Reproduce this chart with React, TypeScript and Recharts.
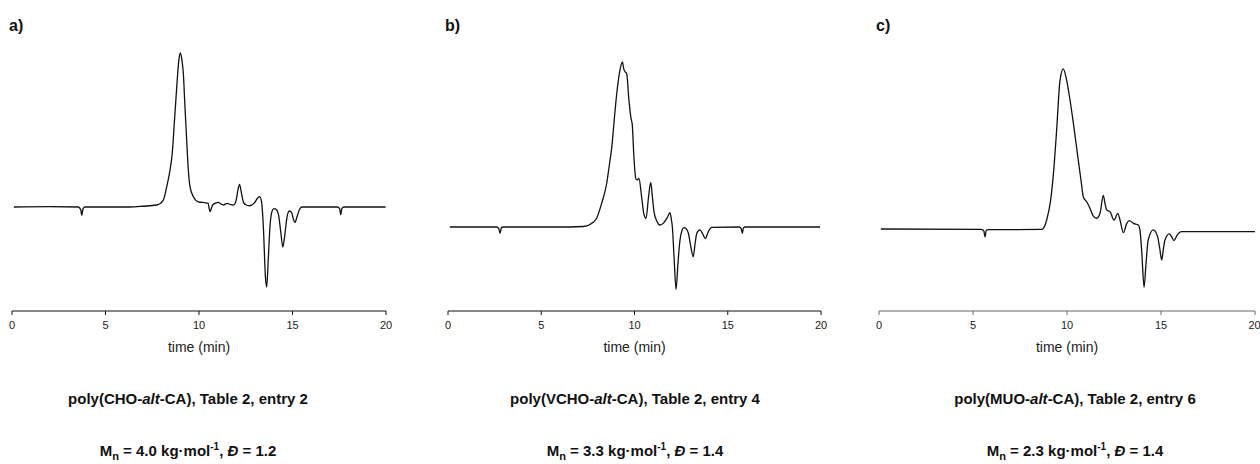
import React from 'react'
import { LineChart, Line, XAxis, YAxis } from 'recharts'

// retention time (min) and detector signal (a.u., main peak = 100)
const timeA = [
  0.1, 2.0, 3.55, 3.68, 3.73, 3.8, 3.9, 6.3, 7.0, 7.74, 8.09, 8.27, 8.45, 8.57, 8.68, 8.81, 8.92, 9.0,
  9.08, 9.16, 9.25, 9.34, 9.43, 9.52, 9.7, 9.96, 10.3, 10.48, 10.59, 10.66, 10.73, 10.88, 11.03, 11.17,
  11.3, 11.51, 11.7, 11.84, 11.98, 12.08, 12.17, 12.27, 12.38, 12.5, 12.7, 12.95, 13.15, 13.25, 13.35,
  13.45, 13.55, 13.62, 13.7, 13.8, 13.9, 14.0, 14.12, 14.25, 14.38, 14.48, 14.58, 14.7, 14.83, 14.95,
  15.05, 15.13, 15.25, 15.38, 15.5, 17.4, 17.52, 17.58, 17.64, 17.75, 19.98,
]
const signalA = [
  0, 0.3, 0, -2, -5.4, -1, 0, 0, 0.5, 1.3, 4.5, 13, 24, 35, 54.5, 78, 95, 100,
  96, 87, 65, 43.5, 24, 13, 6.7, 3.4, 2.8, 2.5, -3, -1, 1.3, 2.5, 3, 2,
  1.3, 2.4, 1.5, 1.3, 4, 11, 14.7, 9, 3, 1.5, 0.8, 2.5, 6, 6.7, 3,
  -15, -45, -52, -35, -12, -3, -1, -1.5, -5, -17, -26, -19, -7, -2.6, -3.5,
  -8, -10, -6, -1.5, 0, 0, -1, -5, -1, 0, 0,
]

const timeB = [
  0.1, 2.6, 2.72, 2.79, 2.86, 2.95, 6.5, 7.26, 7.61, 7.97, 8.24, 8.51, 8.62, 8.69, 8.78, 8.86, 9.04,
  9.22, 9.35, 9.42, 9.5, 9.58, 9.7, 9.81, 9.88, 9.97, 10.08, 10.16, 10.24, 10.38, 10.5, 10.62, 10.75,
  10.87, 10.97, 11.05, 11.2, 11.37, 11.54, 11.75, 11.9, 11.97, 12.03, 12.12, 12.23, 12.33, 12.44,
  12.55, 12.65, 12.77, 12.89, 13.02, 13.15, 13.25, 13.34, 13.51, 13.65, 13.8, 13.95, 14.14, 15.6,
  15.72, 15.78, 15.84, 15.95, 19.95,
]
const signalB = [
  0, 0, -1, -3.8, -0.5, 0, 0, 0.3, 1.5, 5.3, 14.4, 26.5, 35, 40.6, 48, 58, 80,
  95, 100, 96, 94, 93, 77, 66, 62, 42, 29, 28.5, 29.5, 18.4, 8, 5.3, 18,
  27, 17, 9, 3.5, 1.2, 2.2, 5.5, 8.7, 5, 0, -18, -37.8, -22, -7.9,
  -2, -0.4, -1, -3.8, -12, -18, -10, -3.8, -1.8, -4, -7.1, -3, -0.2, 0,
  -1, -3.8, -0.5, 0, 0,
]

const timeC = [
  0.1, 5.4, 5.57, 5.64, 5.7, 5.8, 8.65, 8.92, 9.13, 9.31, 9.45, 9.63, 9.8, 9.98, 10.16, 10.34, 10.6,
  10.75, 10.87, 11.05, 11.22, 11.4, 11.58, 11.76, 11.93, 12.02, 12.11, 12.29, 12.5, 12.7, 12.82, 13.0,
  13.18, 13.32, 13.53, 13.79, 13.88, 13.98, 14.1, 14.2, 14.32, 14.59, 14.82, 14.93, 15.04, 15.12,
  15.21, 15.44, 15.57, 15.69, 15.85, 16.1, 20,
]
const signalC = [
  0, -0.3, -1, -5, -1, -0.4, -0.3, 5.6, 18, 39, 62, 93, 100, 93, 80.6, 66, 43,
  30, 20, 17, 13, 8, 6.7, 10, 21, 16, 11.9, 10.8, 5.6, 9.8, 5.6, -2.3,
  3.5, 5.2, 3.5, 2.5, -0.6, -15, -36.4, -22, -6.9, -0.6, -4.8, -12, -19.4, -13,
  -6.9, -3.1, -5, -7.3, -4, -1.7, -1.7,
]

const timeTicks = [0, 5, 10, 15, 20]

const font = '"Liberation Sans", Arial, sans-serif'

interface PanelProps {
  letter: string
  times: number[]
  signal: number[]
  yDomain: [number, number]
  left: number
  width: number
  margin: { left: number; right: number }
  axisColor: string
  polymer: string
  entry: string
  mn: string
  dispersity: string
  captionCenter: number
}

function Panel({
  letter,
  times,
  signal,
  yDomain,
  left,
  width,
  margin,
  axisColor,
  polymer,
  entry,
  mn,
  dispersity,
  captionCenter,
}: PanelProps) {
  const data = times.map((t, i) => ({ t, v: signal[i] }))
  const captionStyle: React.CSSProperties = {
    position: 'absolute',
    left: captionCenter - 200,
    width: 400,
    textAlign: 'center',
    fontWeight: 'bold',
    fontSize: 15,
    color: '#111',
    whiteSpace: 'nowrap',
  }
  return (
    <>
      <div
        style={{
          position: 'absolute',
          left: left + margin.left - 3,
          top: 17,
          fontWeight: 'bold',
          fontSize: 16,
          color: '#111',
        }}
      >
        {letter}
      </div>
      <div style={{ position: 'absolute', left, top: 0 }}>
        <LineChart
          width={width}
          height={370}
          data={data}
          margin={{ top: 40, right: margin.right, left: margin.left, bottom: 15 }}
        >
          <XAxis
            dataKey="t"
            type="number"
            domain={[0, 20]}
            ticks={timeTicks}
            allowDataOverflow
            height={44}
            stroke={axisColor}
            tickSize={4}
            tickMargin={6}
            tick={{ fontSize: 11, fill: '#222', fontFamily: font }}
            label={{
              value: 'time (min)',
              position: 'insideBottom',
              offset: 3,
              fontSize: 14,
              fill: '#222',
              fontFamily: font,
            }}
          />
          <YAxis hide type="number" domain={yDomain} allowDataOverflow />
          <Line
            type="monotone"
            dataKey="v"
            stroke="#111"
            strokeWidth={1.3}
            dot={false}
            isAnimationActive={false}
          />
        </LineChart>
      </div>
      <div style={{ ...captionStyle, top: 390 }}>
        {polymer}-<i>alt</i>-CA), Table 2, entry {entry}
      </div>
      <div style={{ ...captionStyle, top: 441 }}>
        M<sub style={{ fontSize: 11 }}>n</sub> = {mn} kg·mol
        <sup style={{ fontSize: 10 }}>-1</sup>, <i>Đ</i> = {dispersity}
      </div>
    </>
  )
}

export default function App() {
  return (
    <div
      style={{
        position: 'absolute',
        left: 0,
        top: 0,
        width: 1260,
        height: 464,
        overflow: 'hidden',
        background: '#fff',
        fontFamily: font,
      }}
    >
      <Panel
        letter="a)"
        times={timeA}
        signal={signalA}
        yDomain={[-67.5, 108.4]}
        left={0}
        width={400}
        margin={{ left: 12, right: 14 }}
        axisColor="#111"
        polymer="poly(CHO"
        entry="2"
        mn="4.0"
        dispersity="1.2"
        captionCenter={188}
      />
      <Panel
        letter="b)"
        times={timeB}
        signal={signalB}
        yDomain={[-50.9, 113.3]}
        left={430}
        width={410}
        margin={{ left: 18, right: 19 }}
        axisColor="#111"
        polymer="poly(VCHO"
        entry="4"
        mn="3.3"
        dispersity="1.4"
        captionCenter={635}
      />
      <Panel
        letter="c)"
        times={timeC}
        signal={signalC}
        yDomain={[-51.25, 118.1]}
        left={860}
        width={400}
        margin={{ left: 19, right: 5 }}
        axisColor="#666"
        polymer="poly(MUO"
        entry="6"
        mn="2.3"
        dispersity="1.4"
        captionCenter={1075}
      />
    </div>
  )
}
